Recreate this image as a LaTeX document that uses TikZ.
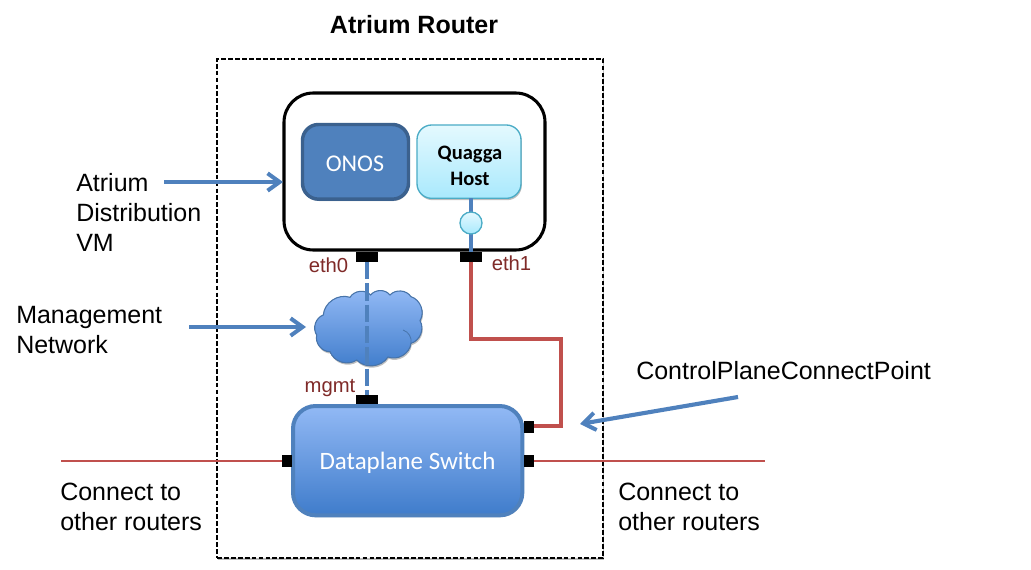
\documentclass[tikz,border=0pt]{standalone}
\usepackage{fontspec}
\setmainfont{Liberation Sans}
\newfontfamily\calfont{Carlito}
\usetikzlibrary{arrows.meta,shadows,positioning}
\definecolor{bluel}{HTML}{4F81BD}
\definecolor{redl}{HTML}{C0504D}
\definecolor{lbl}{HTML}{7F2A28}
\definecolor{skytop}{HTML}{92B9F5}
\definecolor{skybot}{HTML}{3F7CCB}
\definecolor{qtop}{HTML}{E4F9FE}
\definecolor{qbot}{HTML}{A9E9FD}
\definecolor{qline}{HTML}{4BACC6}
\tikzset{
  x=0.75pt,y=-0.75pt,
  softshadow/.style={drop shadow={shadow xshift=0.6pt,shadow yshift=-1.4pt,opacity=.25,fill=black}},
  box/.style={inner sep=0,outer sep=0,anchor=north west,rounded corners=#1},
  port/.style={fill=black,inner sep=0,outer sep=0},
  txt/.style={font=\fontsize{18.75pt}{22.5pt}\selectfont,align=left,anchor=west,inner sep=0},
  lab/.style={font=\fontsize{15.2pt}{18pt}\selectfont,text=lbl,inner sep=0},
  callout/.style={draw=bluel,line width=3.1pt,-{Straight Barb[length=9pt,width=13pt,line width=3pt]}},
  redwire/.style={draw=redl,line width=3.6pt,line join=miter},
  thinred/.style={draw=redl,line width=2.1pt},
  bump/.style={bend left=52},
}
\begin{document}
\begin{tikzpicture}
\useasboundingbox (0,0) rectangle (1031,570);
% border
\node[box=0pt,draw=black,dash pattern=on 3.6pt off 1.6pt,line width=.8pt,fill=white,minimum width=289.5pt,minimum height=374.25pt,softshadow] (router) at (217,59) {};
\node[font=\fontsize{18.75pt}{20pt}\selectfont\bfseries,inner sep=0] (title) at (414,25) {Atrium Router};
% VM
\node[box=22pt,draw=black,line width=2.3pt,fill=white,minimum width=195.75pt,minimum height=117.75pt] (vm) at (284,93) {};
\node[box=12pt,draw=bluel!75!black,line width=2.6pt,fill=bluel,minimum width=79.5pt,minimum height=56pt,softshadow] (onos) at (302.5,124.5) {};
\node[text=white,font=\calfont\fontsize{18pt}{20pt}\selectfont,inner sep=0] (onost) at (355,164) {ONOS};
\node[box=11pt,draw=qline,line width=1pt,top color=qtop,bottom color=qbot,minimum width=78pt,minimum height=55pt,softshadow] (quagga) at (417,125) {};
\node[align=center,font=\calfont\bfseries\fontsize{15.4pt}{19pt}\selectfont,inner sep=0] (quaggat) at (470,166) {Quagga\\Host};
% ports
\node[port,minimum width=17pt,minimum height=7.5pt] (eth0p) at (367,257) {};
\node[port,minimum width=17pt,minimum height=7.5pt] (eth1p) at (471,257) {};
\node[port,minimum width=17pt,minimum height=7pt] (mgmtp) at (367,400) {};
% quagga link
\draw[bluel,line width=2.8pt] (quagga.south -| eth1p) -- (eth1p.north);
\node[circle,draw=qline,line width=1pt,top color=qtop,bottom color=qbot,minimum size=16.5pt,inner sep=0] (qport) at (471,223) {};
% switch
\node[box=17pt,draw=bluel,line width=3pt,top color=skytop,bottom color=skybot,minimum width=172pt,minimum height=82pt,softshadow] (switch) at (293,406) {};
\node[text=white,font=\calfont\fontsize{18.75pt}{20pt}\selectfont,inner sep=0] (switcht) at (407.5,463) {Dataplane Switch};
\node[port,minimum width=7.5pt,minimum height=9pt] (pl) at (286.5,461) {};
\node[port,minimum width=7.5pt,minimum height=9pt] (pru) at (529,427) {};
\node[port,minimum width=7.5pt,minimum height=9pt] (prl) at (529,461) {};
% cloud
\filldraw[draw=bluel!90!black,line width=.8pt,top color=skytop,bottom color=skybot,softshadow]
 (316.7,335) to[bump] (323.3,315) to[bump] (350,297.3) to[bump] (370.7,295)
 to[bump] (390,295) to[bump] (411,296.7) to[bump] (420,320.7) to[bump] (411,343.3)
 to[bump] (388,357) to[bump] (356.7,360) to[bump] (330,351.7) to[bump] cycle;
\draw[draw=bluel!90!black,line width=.6pt] (403,330) to[bend left=40] (411,343.3);
\coordinate (cloudw) at (306,327);
\draw[bluel,line width=3pt,dash pattern=on 13pt off 3pt] (eth0p.south) -- (mgmtp.north);
% wires
\coordinate (w1) at (471,339);
\coordinate (w2) at (561,339);
\coordinate (w3) at (561,426);
\draw[redwire] (eth1p.south) -- (w1) -- (w2) -- (w3) -- (pru.east |- w3);
\coordinate (ll) at (61,461);
\coordinate (rr) at (765,461);
\draw[thinred] (ll) -- (pl.west);
\draw[thinred] (prl.east) -- (rr);
% callouts
\coordinate (a1s) at (164,182); \coordinate (a1e) at (283,182);
\coordinate (a2s) at (189,327);
\coordinate (a3s) at (738,397); \coordinate (a3e) at (580,424);
\draw[callout] (a1s) -- (a1e);
\draw[callout] (a2s) -- (cloudw);
\draw[callout] (a3s) -- (a3e);
% labels
\node[lab] (eth0) at (328.5,265) {eth0};
\node[lab] (eth1) at (511.5,263) {eth1};
\node[lab] (mgmt) at (330,388) {mgmt};
\node[txt] (t1) at (76,212) {Atrium\\Distribution\\VM};
\node[txt] (t2) at (16,330) {Management\\Network};
\node[txt] (t3) at (636,371) {ControlPlaneConnectPoint};
\node[txt] (t4) at (60,507) {Connect to\\other routers};
\node[txt] (t5) at (618,507) {Connect to\\other routers};
\end{tikzpicture}
\end{document}
